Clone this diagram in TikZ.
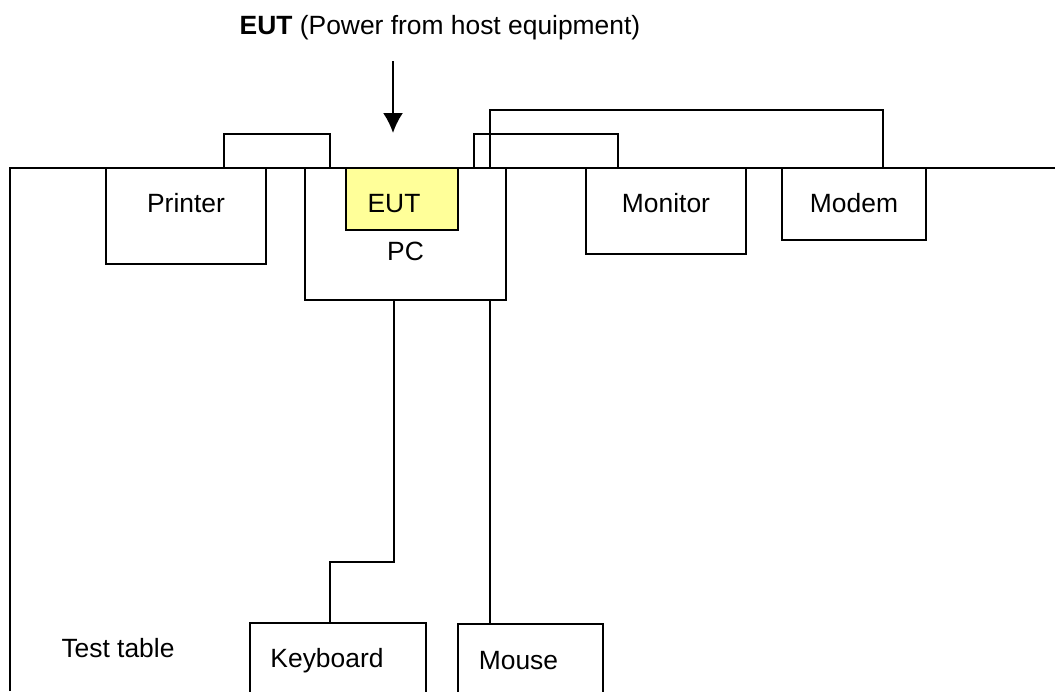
\documentclass[tikz,border=0pt]{standalone}
\usepackage{fontspec}
\setmainfont{Liberation Sans}
\usepackage{xcolor}
\usetikzlibrary{arrows.meta,positioning,calc}

\definecolor{eutyellow}{HTML}{FFFF99}

\begin{document}
\begin{tikzpicture}[x=0.5pt,y=-0.5pt,>=Latex,line width=1pt,
    font=\fontsize{13.2}{16}\selectfont,
    unit/.style={draw,anchor=north west,inner sep=0pt,outer sep=0pt}]
  \useasboundingbox (0,0) rectangle (1055,691);

  % test table edge
  \coordinate (tablecorner) at (10,168);
  \draw (10,691) -- (tablecorner) -- (1055,168);
  \node[anchor=base] (tablelabel) at (118,657) {Test table};

  % units on the table
  \node[unit,minimum width=80pt,minimum height=48pt,
    label={[anchor=base,yshift=-22pt]north:Printer}] (printer) at (106,168) {};
  \node[unit,minimum width=100.5pt,minimum height=66pt,
    label={[anchor=base,yshift=-46pt]north:PC}] (pc) at (305,168) {};
  \node[unit,fill=eutyellow,minimum width=56pt,minimum height=31pt,
    label={[anchor=base,xshift=-4pt,yshift=-22pt]north:EUT}] (eut) at (346,168) {};
  \node[unit,minimum width=80pt,minimum height=43pt,
    label={[anchor=base,yshift=-22pt]north:Monitor}] (monitor) at (586,168) {};
  \node[unit,minimum width=72pt,minimum height=36pt,
    label={[anchor=base,yshift=-22pt]north:Modem}] (modem) at (782,168) {};
  \node[unit,minimum width=88pt,minimum height=40pt,
    label={[anchor=base,xshift=-5.5pt,yshift=-22pt]north:Keyboard}] (keyboard) at (250,623) {};
  \node[unit,minimum width=72.5pt,minimum height=40pt,
    label={[anchor=base,xshift=-6pt,yshift=-22.5pt]north:Mouse}] (mouse) at (458,624) {};

  % power note
  \node[anchor=base] (power) at (440,34) {\textbf{EUT} (Power from host equipment)};
  \coordinate (powerin) at (393,61);
  \draw[-{Latex[length=10pt,width=10pt]}] (powerin) -- ++(0,72);

  % cables
  \draw ([xshift=59pt]printer.north west) -- ++(0,-34) -| ([xshift=12.5pt]pc.north west);
  \draw ([xshift=84.5pt]pc.north west) -- ++(0,-34) -| ([xshift=16pt]monitor.north west);
  \draw ([xshift=92.5pt]pc.north west) -- ++(0,-58) -| ([xshift=50.5pt]modem.north west);
  \draw ([xshift=44.5pt]pc.south west) -- ++(0,262) -| ([xshift=40pt]keyboard.north west);
  \draw ([xshift=92.5pt]pc.south west) -- ([xshift=16pt]mouse.north west);
\end{tikzpicture}
\end{document}
